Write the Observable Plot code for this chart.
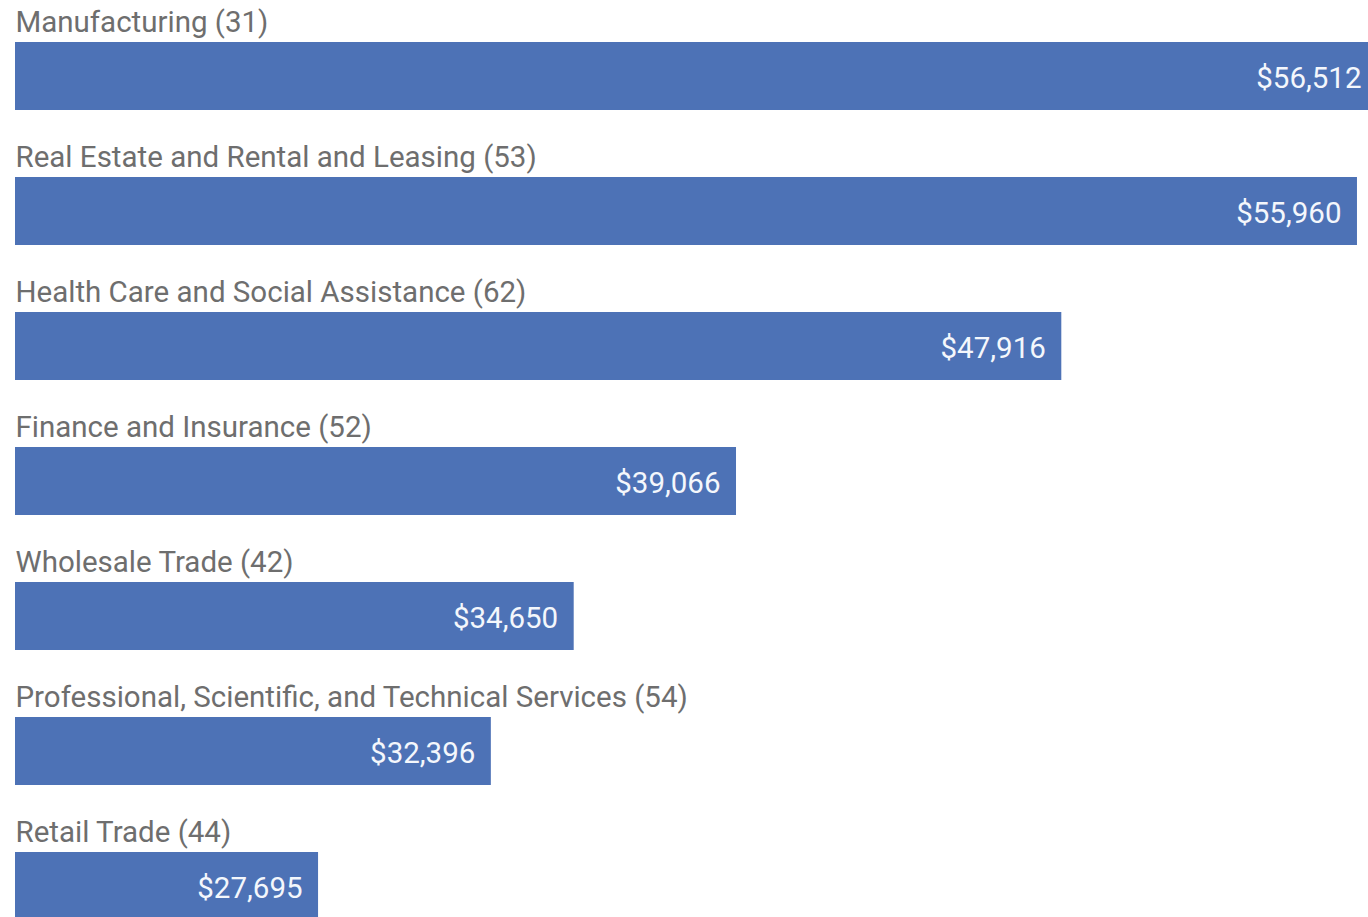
<!DOCTYPE html>
<html>
<head>
<meta charset="utf-8">
<script src="https://cdn.jsdelivr.net/npm/d3@7"></script>
<script src="https://cdn.jsdelivr.net/npm/@observablehq/plot@0.6"></script>
<style>
  html, body { margin: 0; padding: 0; background: #fff; overflow: hidden; }
  #chart svg { display: block; }
</style>
</head>
<body>
<div id="chart"></div>
<script>
const categories = [
  "Manufacturing",
  "Real Estate and Rental and Leasing",
  "Health Care and Social Assistance",
  "Finance and Insurance",
  "Wholesale Trade",
  "Professional, Scientific, and Technical Services",
  "Retail Trade"
];
const naicsCodes = [31, 53, 62, 52, 42, 54, 44];
const values = [56512, 55960, 47916, 39066, 34650, 32396, 27695];

const data = categories.map((name, i) => ({
  name,
  label: `${name} (${naicsCodes[i]})`,
  value: values[i]
}));

const fmt = d3.format("$,");

const chart = Plot.plot({
  width: 1368,
  height: 917,
  margin: 0,
  style: { background: "#fff", fontFamily: "Roboto, sans-serif" },
  x: { domain: [19450, 56505], range: [15, 1377], clamp: true, axis: null },
  y: { domain: categories, range: [42, 924], paddingInner: 0.499, paddingOuter: 0, align: 0, axis: null },
  marks: [
    Plot.barX(data, { x: "value", y: "name", fill: "#4d72b6" }),
    Plot.text(data, {
      y: "name", text: "label", frameAnchor: "left", textAnchor: "start",
      dx: 15, dy: -54, fontSize: 29.5, fill: "#6e6e6e"
    }),
    Plot.text(data, {
      x: "value", y: "name", text: d => fmt(d.value), textAnchor: "end",
      dx: -16, dy: 2, fontSize: 29.5, fill: "#f4f7fc"
    })
  ]
});
document.getElementById("chart").appendChild(chart);
</script>
</body>
</html>
